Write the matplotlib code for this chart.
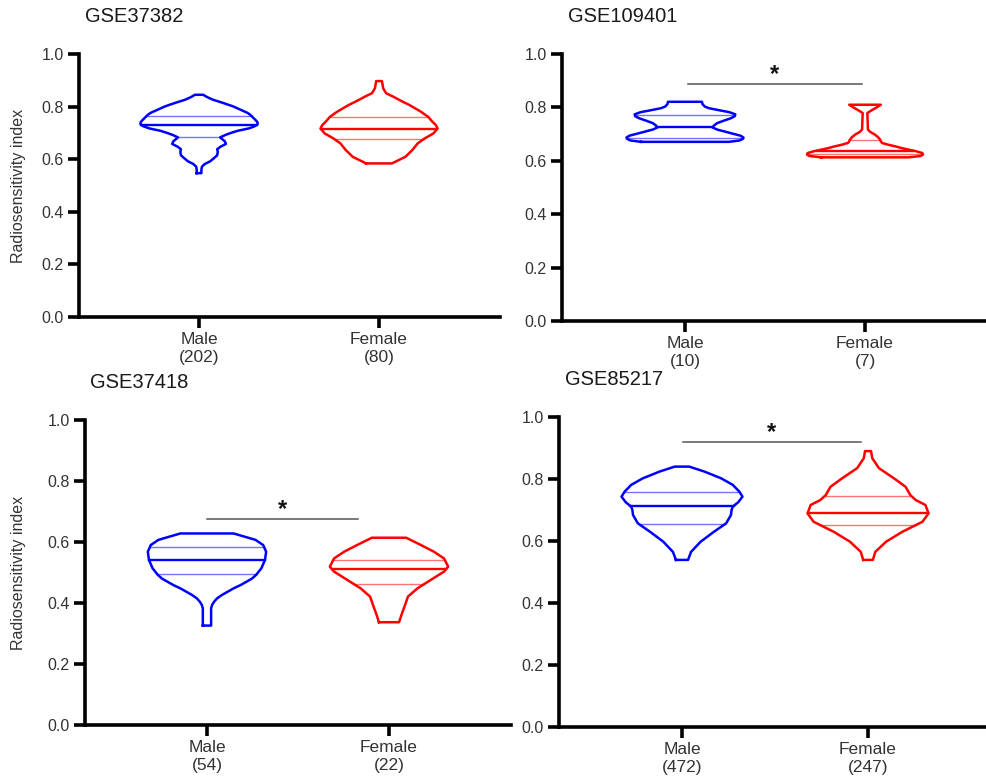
import numpy as np
import matplotlib.pyplot as plt

plt.rcParams['font.family'] = ['Liberation Sans', 'DejaVu Sans']

BLUE = '#0000ff'
RED = '#ff0000'
groups = ['Male', 'Female']

# ---- GSE37382 ----
gse37382_n = [202, 80]
gse37382_male_y = [0.547, 0.560, 0.572, 0.582, 0.592, 0.603, 0.615, 0.628, 0.638, 0.648,
                   0.658, 0.668, 0.683, 0.693, 0.701, 0.708, 0.717, 0.725, 0.733, 0.740,
                   0.748, 0.759, 0.768, 0.776, 0.788, 0.801, 0.814, 0.826, 0.836, 0.845]
gse37382_male_w = [0.04, 0.04, 0.05, 0.10, 0.19, 0.25, 0.31, 0.32, 0.31, 0.37,
                   0.46, 0.44, 0.36, 0.46, 0.56, 0.66, 0.85, 0.95, 1.00, 1.00,
                   0.97, 0.92, 0.88, 0.83, 0.71, 0.58, 0.41, 0.24, 0.14, 0.07]
gse37382_female_y = [0.584, 0.609, 0.635, 0.660, 0.679, 0.698, 0.717, 0.730, 0.743,
                     0.761, 0.780, 0.793, 0.806, 0.818, 0.838, 0.851, 0.870, 0.897]
gse37382_female_w = [0.22, 0.45, 0.57, 0.66, 0.78, 0.93, 1.00, 0.97, 0.91,
                     0.84, 0.72, 0.62, 0.52, 0.41, 0.24, 0.12, 0.07, 0.05]
gse37382_male_q = [0.683, 0.731, 0.763]
gse37382_female_q = [0.677, 0.715, 0.761]

# ---- GSE109401 ----
gse109401_n = [10, 7]
gse109401_male_y = [0.671, 0.676, 0.682, 0.687, 0.694, 0.702, 0.709, 0.717, 0.725, 0.733,
                    0.741, 0.750, 0.759, 0.767, 0.774, 0.782, 0.790, 0.797, 0.803, 0.812, 0.821]
gse109401_male_w = [0.75, 0.93, 0.99, 1.00, 0.95, 0.81, 0.69, 0.55, 0.47, 0.50,
                    0.55, 0.66, 0.78, 0.85, 0.86, 0.76, 0.57, 0.41, 0.34, 0.30, 0.29]
gse109401_female_y = [0.613, 0.618, 0.623, 0.629, 0.636, 0.642, 0.648, 0.654, 0.660, 0.667,
                      0.673, 0.679, 0.689, 0.698, 0.708, 0.717, 0.779, 0.790, 0.800, 0.810]
gse109401_female_w = [0.75, 0.95, 0.99, 0.98, 0.87, 0.74, 0.62, 0.52, 0.40, 0.29,
                      0.27, 0.26, 0.22, 0.17, 0.09, 0.05, 0.04, 0.12, 0.20, 0.27]
gse109401_male_q = [0.684, 0.726, 0.770]
gse109401_female_q = [0.626, 0.638, 0.677]

# ---- GSE37418 ----
gse37418_n = [54, 22]
gse37418_male_y = [0.326, 0.383, 0.395, 0.404, 0.415, 0.426, 0.437, 0.448, 0.459,
                   0.470, 0.480, 0.492, 0.514, 0.541, 0.568, 0.590, 0.607, 0.628]
gse37418_male_w = [0.07, 0.07, 0.09, 0.12, 0.17, 0.25, 0.35, 0.45, 0.57,
                   0.67, 0.76, 0.83, 0.92, 0.98, 1.00, 0.95, 0.82, 0.45]
gse37418_female_y = [0.337, 0.361, 0.393, 0.421, 0.448, 0.475, 0.503, 0.519,
                     0.546, 0.568, 0.590, 0.614]
gse37418_female_w = [0.17, 0.21, 0.27, 0.32, 0.48, 0.70, 0.93, 1.00,
                     0.93, 0.76, 0.54, 0.29]
gse37418_male_q = [0.494, 0.541, 0.585]
gse37418_female_q = [0.461, 0.510, 0.541]

# ---- GSE85217 ----
gse85217_n = [472, 247]
gse85217_male_y = [0.539, 0.565, 0.598, 0.630, 0.657, 0.684, 0.700, 0.711, 0.725,
                   0.743, 0.759, 0.781, 0.802, 0.824, 0.840]
gse85217_male_w = [0.10, 0.15, 0.31, 0.53, 0.73, 0.81, 0.82, 0.84, 0.93,
                   1.00, 0.95, 0.84, 0.65, 0.37, 0.12]
gse85217_female_y = [0.539, 0.565, 0.598, 0.630, 0.662, 0.689, 0.716, 0.732, 0.748,
                     0.775, 0.802, 0.835, 0.867, 0.890]
gse85217_female_w = [0.08, 0.12, 0.30, 0.57, 0.90, 1.00, 0.95, 0.79, 0.70,
                     0.62, 0.43, 0.18, 0.07, 0.05]
gse85217_male_q = [0.655, 0.713, 0.757]
gse85217_female_q = [0.652, 0.691, 0.745]

# significance brackets: (x start, x end, height)
gse109401_sig = (0.017, 0.983, 0.888)
gse37418_sig = (0.0, 0.83, 0.675)
gse85217_sig = (0.005, 0.962, 0.920)

HALF = 0.325  # widest half-width of a violin, in category units


def draw_violin(ax, pos, ys, ws, quart, color):
    ys = np.asarray(ys)
    hw = np.asarray(ws) * HALF
    xs = np.concatenate([pos - hw, (pos + hw)[::-1], [pos - hw[0]]])
    yy = np.concatenate([ys, ys[::-1], [ys[0]]])
    ax.plot(xs, yy, color=color, lw=1.8, solid_joinstyle='round', zorder=3)
    # quartiles thin and faded, median bold
    for q, lw, a in zip(quart, [1.0, 1.7, 1.0], [0.55, 1.0, 0.55]):
        h = np.interp(q, ys, hw)
        ax.plot([pos - h, pos + h], [q, q], color=color, lw=lw, alpha=a, zorder=2)


def style_axes(ax, n, xlim, ylabel=False):
    ax.set_xlim(*xlim)
    ax.set_ylim(0, 1)
    for s in ['top', 'right']:
        ax.spines[s].set_visible(False)
    for s in ['left', 'bottom']:
        ax.spines[s].set_linewidth(2.6)
    ax.set_yticks(np.arange(0, 1.01, 0.2))
    ax.set_yticklabels(['%.1f' % v for v in np.arange(0, 1.01, 0.2)])
    ax.set_xticks([0, 1])
    ax.set_xticklabels(['%s\n(%d)' % (g, k) for g, k in zip(groups, n)])
    ax.tick_params(axis='both', direction='out', length=8, width=2.6, colors='black',
                   labelcolor='#333333')
    ax.tick_params(axis='y', labelsize=11.5, pad=3)
    ax.tick_params(axis='x', labelsize=12.5, pad=3)
    if ylabel:
        ax.set_ylabel('Radiosensitivity index', fontsize=11.5, color='#333333')


def draw_sig(ax, sig):
    x0, x1, h = sig
    ax.plot([x0, x1], [h, h], color='#555555', lw=1.1)
    ax.annotate('*', xy=((x0 + x1) / 2, h), xytext=(0, 2), textcoords='offset points',
                ha='center', va='baseline', fontsize=17, fontweight='bold', color='#111111')


fig = plt.figure(figsize=(9.86, 7.78), dpi=100)
W, H = 986, 778


def add_axes(left, right, top, bottom):
    return fig.add_axes([left / W, 1 - bottom / H, (right - left) / W, (bottom - top) / H])


ax1 = add_axes(79, 500, 54, 317)
ax2 = add_axes(562, 986, 54, 321)
ax3 = add_axes(85, 511, 420, 725)
ax4 = add_axes(559, 986, 417, 727)

draw_violin(ax1, 0, gse37382_male_y, gse37382_male_w, gse37382_male_q, BLUE)
draw_violin(ax1, 1, gse37382_female_y, gse37382_female_w, gse37382_female_q, RED)
style_axes(ax1, gse37382_n, (-0.667, 1.672), ylabel=True)
ax1.yaxis.set_label_coords(-0.127, 0.5)

draw_violin(ax2, 0, gse109401_male_y, gse109401_male_w, gse109401_male_q, BLUE)
draw_violin(ax2, 1, gse109401_female_y, gse109401_female_w, gse109401_female_q, RED)
style_axes(ax2, gse109401_n, (-0.683, 1.672))
draw_sig(ax2, gse109401_sig)

draw_violin(ax3, 0, gse37418_male_y, gse37418_male_w, gse37418_male_q, BLUE)
draw_violin(ax3, 1, gse37418_female_y, gse37418_female_w, gse37418_female_q, RED)
style_axes(ax3, gse37418_n, (-0.670, 1.670), ylabel=True)
ax3.yaxis.set_label_coords(-0.138, 0.5)
draw_sig(ax3, gse37418_sig)

draw_violin(ax4, 0, gse85217_male_y, gse85217_male_w, gse85217_male_q, BLUE)
draw_violin(ax4, 1, gse85217_female_y, gse85217_female_w, gse85217_female_q, RED)
style_axes(ax4, gse85217_n, (-0.661, 1.634))
draw_sig(ax4, gse85217_sig)

# dataset titles
for x, y, t in [(85, 17, 'GSE37382'), (568, 17, 'GSE109401'),
                (90, 382, 'GSE37418'), (565, 380, 'GSE85217')]:
    fig.text(x / W, 1 - y / H, t, ha='left', va='center', fontsize=14.5, color='#1a1a1a')

fig.savefig('out.png', dpi=100)
